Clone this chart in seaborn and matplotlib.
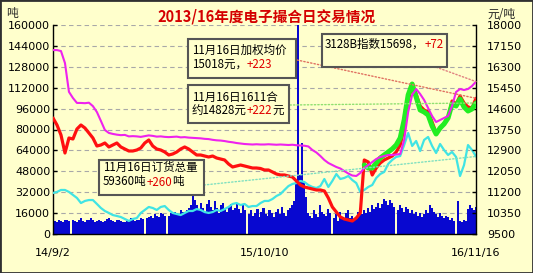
import numpy as np
import pandas as pd
import matplotlib
matplotlib.use("Agg")
import matplotlib.pyplot as plt
import seaborn as sns
from matplotlib.patches import Rectangle, ConnectionPatch
from matplotlib.text import Annotation

# ---------------- data ----------------
TOTAL_DAYS = 806  # 2014-09-02 .. 2016-11-16
xtick_labels = ["14/9/2", "15/10/10", "16/11/16"]
xtick_days = [0, 403, 806]

left_ticks = list(range(0, 160001, 16000))
right_ticks = list(range(9500, 18001, 850))

# daily trading volume (thousand tons), left axis
volume_k = [9, 10, 9.5, 11, 10, 9, 10.5, 11, 10,
            0,
            11, 10, 9.5, 11, 12, 10, 9, 10.5, 11, 12, 10.5, 9.5, 10, 11, 10, 9, 10, 11.5, 12, 11,
            10, 9.5, 10.5, 11, 10, 9, 9.5, 10, 11, 12, 11, 10, 10.5, 11, 12, 11.5,
            0,
            12, 13, 14, 12, 15, 14, 13, 16, 15, 14,
            0,
            14, 16, 15, 17, 16, 15, 18, 17, 16, 18, 20, 22,
            31,
            26, 22, 18, 24, 20, 17, 23, 26, 21, 18, 25, 20, 16, 22, 24, 19, 17, 21, 23, 18,
            20, 24, 19, 16, 22, 18,
            0,
            15, 18, 14, 16, 19, 13, 17, 20, 15, 14, 18, 16, 13, 17, 19, 15, 21, 16, 14, 18, 20, 22, 25,
            40, 170, 45, 70, 40, 28,
            16, 14, 12, 18, 15, 13, 22, 17, 15, 14, 19, 16,
            0,
            12, 15, 10, 17, 13, 11, 16, 18, 12, 14, 10, 13, 17, 20,
            15, 18, 16, 20, 17, 22, 19, 21, 24, 20, 23, 27, 25, 22, 26, 24, 21,
            0,
            18, 22, 20, 17, 21, 19, 16, 18, 15, 17, 14, 16, 13, 15, 18, 16, 22, 20, 17, 15,
            13, 16, 14, 12, 14, 13, 11, 12, 10,
            0,
            25,
            10, 9, 11, 10,
            19, 22, 20, 18, 21]

# order quantity (thousand tons), left axis  (cyan)
order_k = [31.4, 32.2, 33.7, 33.7, 32.2, 29.9, 27.6, 23.7, 25.3, 26.0,
           26.0, 23.0, 19.9, 17.6, 16.1, 14.5, 13.8, 13.0, 11.5, 10.0,
           11.5, 12.2, 16.1, 18.4, 20.7, 19.9, 18.4, 20.7, 21.4, 18.4,
           16.1, 15.3, 14.5, 16.1, 17.6, 17.6, 19.1, 18.4, 16.8, 16.1,
           16.8, 18.4, 17.6, 19.1, 20.7, 23.0, 23.7, 22.2, 23.0, 20.7,
           21.4, 21.4, 23.7, 25.3, 25.3, 26.8, 29.1, 30.6, 33.7, 36.7,
           38.3, 39.0, 40.6, 39.8, 37.5, 36.0, 35.2, 36.7, 42.1, 36.0,
           40.6, 45.9, 42.1, 42.9, 44.4, 41.3, 39.0, 32.2, 33.7, 36.0,
           37.5, 42.9, 45.9, 47.5, 53.6, 56.7, 59.0, 59.7, 68.1, 77.3,
           67.4, 71.2, 63.5, 72.0, 74.3, 67.4, 62.0, 68.9, 64.3, 60.5,
           62.8, 59.0, 44.4, 52.8, 68.1, 64.3, 59.36]

# weighted average price (yuan/ton), right axis (red)
weighted_price = [14218, 13933, 13527, 12794, 13404, 13364, 13770, 13933, 13811, 13608,
                  13404, 13079, 13120, 13201, 13039, 13120, 13201, 13039, 12957, 12876,
                  12876, 12916, 12998, 13201, 13323, 13079, 12957, 12916, 12835, 12713,
                  12754, 12835, 12957, 13039, 12957, 12835, 12713, 12713, 12672, 12632,
                  12672, 12591, 12550, 12510, 12347, 12225, 12266, 12306, 12266, 12225,
                  12184, 12184, 12164, 12103, 12103, 12022, 11940, 11900, 11900, 11859,
                  11818, 11655, 11493, 11411, 11371, 11330, 11290, 11290, 11249, 10964,
                  10598, 10395, 10192, 10110, 10070, 10029, 10151, 10354, 12510, 12428,
                  11900, 12184, 12388, 12510, 12591, 12672, 12835, 13120, 13811, 14950,
                  15519, 15194, 14706, 14543, 14462, 14055, 13608, 13770, 14014, 14218,
                  14909, 14787, 15112, 14828, 14665, 14624, 15018]

# 3128B index (yuan/ton), right axis (magenta)
index_3128b = [16980, 16980, 16940, 16450,
               15280, 15030, 14830, 14830, 14820, 14840, 14700, 14460, 14100,
               13730, 13610, 13570, 13540, 13520, 13530, 13470, 13480, 13470, 13450,
               13480, 13510, 13490, 13460, 13470, 13450, 13440, 13450, 13460, 13430, 13440, 13420,
               13410, 13400, 13390, 13370, 13360, 13330, 13310, 13300, 13280, 13250, 13230, 13200,
               13180, 13160, 13150, 13140, 13150, 13140,
               13140, 13150, 13140, 13130, 13140, 13130, 13120, 13130, 13110, 13100, 13090, 13060,
               12916, 12815, 12672, 12510, 12388, 12306, 12225, 12164, 12062, 11960, 11879, 11859,
               11981, 12184, 12306,
               12428, 12550, 12632, 12672, 12713, 12713, 12733, 12754,
               13323, 14462, 15153, 15397, 15194, 14950, 14624, 14299, 14055, 14136, 14218, 14299,
               14706, 15275, 15397, 15356, 15397, 15519, 15698]

# 1611 contract (yuan/ton), right axis (green), last part of the period
contract_1611 = [12306, 12184, 12184, 12388, 12591, 12713, 12835, 12957, 13120, 13404,
                 14136, 15153, 15600, 15072, 14543, 14462, 14340, 13892, 13567, 13811,
                 13974, 14218, 14787, 14706, 14990, 14665, 14502, 14584, 14828]

# ---------------- style ----------------
BG = "#ffffcc"
BLUE = "#0808d0"
CYAN = "#40e4e4"
RED = "#ff1010"
GREEN = "#22ee22"
PINK = "#ee22ee"
PLUS = "#e00000"
CJK = ["Noto Sans CJK SC", "DejaVu Sans"]

sns.set_style("ticks")
plt.rcParams["font.family"] = ["DejaVu Sans"]

W, H = 533, 273
fig = plt.figure(figsize=(W / 100, H / 100), dpi=100, facecolor=BG)


def fx(x):
    return x / W


def fy(y):
    return 1 - y / H


ax = fig.add_axes([fx(53), fy(234), (476 - 53) / W, (234 - 25) / H])
ax.set_facecolor(BG)
ax2 = ax.twinx()
ax2.patch.set_visible(False)

bar_days = np.linspace(0, TOTAL_DAYS, len(volume_k))
line_days = np.linspace(0, TOTAL_DAYS, len(order_k))
green_days = line_days[-len(contract_1611):]

df_lines = pd.DataFrame({"day": line_days,
                         "order": np.array(order_k) * 1000,
                         "price": weighted_price,
                         "index": index_3128b})
df_green = pd.DataFrame({"day": green_days, "c1611": contract_1611})

# bars + cyan on left axis
ax.bar(bar_days, np.array(volume_k) * 1000, width=TOTAL_DAYS / (len(volume_k) - 1) * 1.02,
       color=BLUE, linewidth=0, antialiased=False, zorder=2)
sns.lineplot(data=df_lines, x="day", y="order", ax=ax, color=CYAN, lw=1.6, zorder=3)

# prices on right axis
sns.lineplot(data=df_lines, x="day", y="price", ax=ax2, color=RED, lw=2.3, zorder=3)
sns.lineplot(data=df_green, x="day", y="c1611", ax=ax2, color=GREEN, lw=3.6, zorder=4)
sns.lineplot(data=df_lines, x="day", y="index", ax=ax2, color=PINK, lw=1.5, zorder=5)

for a in (ax, ax2):
    a.set_xlim(0, TOTAL_DAYS)
    a.set_xlabel("")
    a.set_ylabel("")
    a.spines["top"].set_visible(False)
ax.set_ylim(0, 160000)
ax2.set_ylim(9500, 18000)
ax.set_yticks(left_ticks)
ax.set_yticklabels([str(t) for t in left_ticks])
ax2.set_yticks(right_ticks)
ax2.set_yticklabels([str(t) for t in right_ticks])
ax.set_xticks(xtick_days)
ax.set_xticklabels(xtick_labels)

ax.set_axisbelow(True)
ax.yaxis.grid(True, linestyle=(0, (4, 3)), color="#a8a8a8", lw=0.8)
ax.xaxis.grid(False)

for s in ("left", "bottom"):
    ax.spines[s].set_color("black")
    ax.spines[s].set_linewidth(1)
ax.spines["right"].set_visible(False)
ax2.spines["left"].set_visible(False)
ax2.spines["bottom"].set_visible(False)
ax2.spines["right"].set_color("black")
ax2.spines["right"].set_linewidth(1)

ax.tick_params(axis="y", direction="in", length=3, width=1, pad=2, labelsize=8, colors="black")
ax2.tick_params(axis="y", direction="in", length=3, width=1, pad=8, labelsize=8, colors="black")
ax.tick_params(axis="x", length=0, pad=10, labelsize=8, colors="black")

# ---------------- texts ----------------
fig.text(0.5, fy(16), "2013/16年度电子撮合日交易情况", ha="center", va="center",
         fontsize=10.5, fontweight="bold", color="#d40000", family=CJK)
fig.text(fx(6), fy(14), "吨", ha="left", va="center", fontsize=8.5, family=CJK)
fig.text(fx(501), fy(15), "元/吨", ha="center", va="center", fontsize=8.5, family=CJK)


def box(x0, y0, x1, y1):
    fig.add_artist(Rectangle((fx(x0), fy(y1)), (x1 - x0) / W, (y1 - y0) / H,
                             transform=fig.transFigure, facecolor=BG,
                             edgecolor="#555555", lw=1.5, zorder=6))


def rich(x, y, parts, size=8.3):
    t = fig.text(fx(x), fy(y), parts[0][0], color=parts[0][1], fontsize=size,
                 family=CJK, ha="left", va="center", zorder=7)
    prev = t
    for s, c in parts[1:]:
        a = Annotation(s, xy=(1, 0), xycoords=prev, xytext=(0, 0),
                       textcoords="offset points", ha="left", va="bottom",
                       color=c, fontsize=size, family=CJK, zorder=7)
        fig.add_artist(a)
        prev = a


def connect(xp, yp, axis, xd, yd, color):
    con = ConnectionPatch(xyA=(fx(xp), fy(yp)), coordsA=fig.transFigure,
                          xyB=(xd, yd), coordsB=axis.transData,
                          linestyle=(0, (1, 1.5)), color=color, lw=1.0, zorder=5)
    fig.add_artist(con)


connect(297, 60, ax2, line_days[-1], weighted_price[-1], "#e07060")
connect(290, 105, ax2, green_days[-1], contract_1611[-1], "#90e070")
connect(433, 66, ax2, line_days[-1], index_3128b[-1], "#e08080")
connect(204, 185, ax, line_days[-1], order_k[-1] * 1000, "#80e0c0")

box(188, 39, 296, 78)
rich(192, 50, [("11月16日加权均价", "black")])
rich(192, 64, [("15018元，", "black"), ("+223", PLUS)])

box(188, 85, 289, 123)
rich(192, 97, [("11月16日1611合", "black")])
rich(192, 111, [("约14828元", "black"), ("+222", PLUS), ("元", "black")])

box(322, 34, 447, 67)
rich(325, 44, [("3128B指数15698，", "black"), ("+72", PLUS)])

box(99, 160, 204, 195)
rich(103, 167, [("11月16日订货总量", "black")])
rich(103, 182, [("59360吨", "black"), ("+260", PLUS), ("吨", "black")])

fig.add_artist(Rectangle((0, 0), 1, 1, transform=fig.transFigure, fill=False,
                         edgecolor="#303030", lw=2, zorder=10))

fig.savefig("out.png", dpi=100, facecolor=BG)
